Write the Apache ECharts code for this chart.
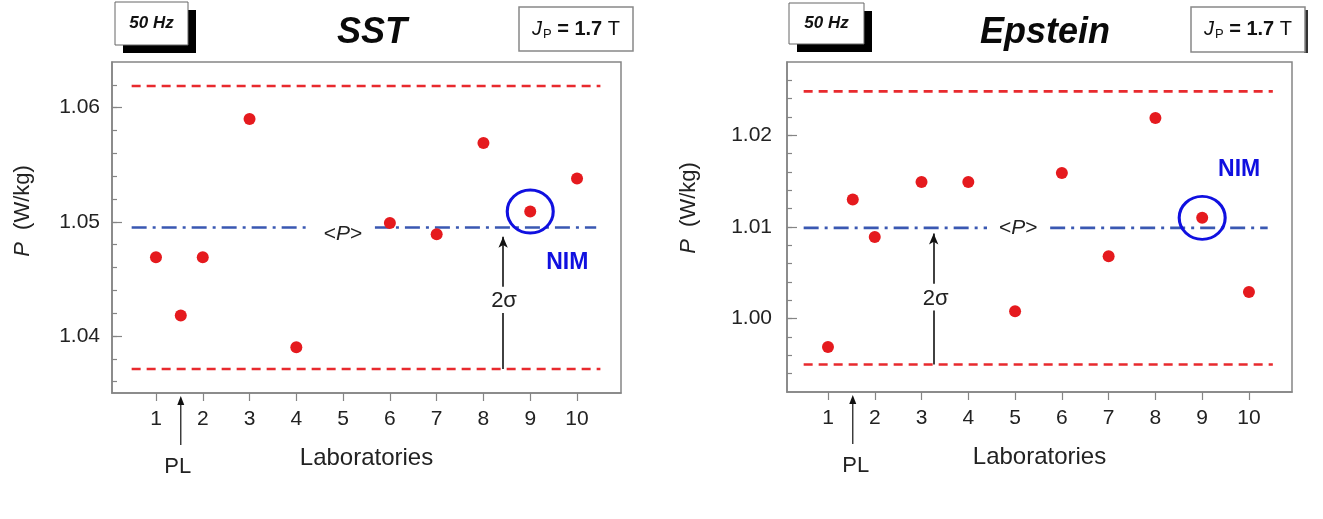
<!DOCTYPE html>
<html><head><meta charset="utf-8">
<script src="https://cdn.jsdelivr.net/npm/echarts/dist/echarts.min.js"></script>
<style>html,body{margin:0;padding:0;background:#fff}#c{width:1323px;height:519px}</style>
</head><body><div id="c"></div>
<script>
// ---------------- data ----------------
const sstLabs = [1, 1.53, 2, 3, 4, 6, 7, 8, 9, 10];
const sstP = [1.0469, 1.0418, 1.0469, 1.0590, 1.0390, 1.0499, 1.0489, 1.0569, 1.0509, 1.0538];
const sstMean = 1.0495;
const sstUpper = 1.0619;
const sstLower = 1.0371;

const epsLabs = [1, 1.53, 2, 3, 4, 5, 6, 7, 8, 9, 10];
const epsP = [0.9969, 1.0130, 1.0089, 1.0149, 1.0149, 1.0008, 1.0159, 1.0068, 1.0219, 1.0110, 1.0029];
const epsMean = 1.0099;
const epsUpper = 1.0248;
const epsLower = 0.9950;

const labTicks = [1, 2, 3, 4, 5, 6, 7, 8, 9, 10];
const plLab = 1.53;
const nimLab = 9;

const sstMajorTicks = [1.04, 1.05, 1.06];
const sstMinorTicks = [1.036, 1.038, 1.040, 1.042, 1.044, 1.046, 1.048, 1.050, 1.052, 1.054, 1.056, 1.058, 1.060, 1.062];
const epsMajorTicks = [1.00, 1.01, 1.02];
const epsMinorTicks = [0.994, 0.996, 0.998, 1.000, 1.002, 1.004, 1.006, 1.008, 1.010, 1.012, 1.014, 1.016, 1.018, 1.020, 1.022, 1.024, 1.026];

// ---------------- styles / layout ----------------
const FONT = "'Liberation Sans', Arial, sans-serif";
const RED = '#e51a1e';
const DASH_RED = '#e82a2e';
const MEAN_BLUE = '#3a58b2';
const NIM_BLUE = '#1010e0';
const AXIS_GRAY = '#858585';
const TXT = '#222';

const panels = [
  { labs: sstLabs, vals: sstP, mean: sstMean, up: sstUpper, lo: sstLower, major: sstMajorTicks, minor: sstMinorTicks,
    grid: { left: 112, top: 62, width: 509, height: 331 }, xr: [0.06, 10.94], yr: [1.035, 1.064], dec: 2,
    lineX: [0.48, 10.5], meanGap: [4.25, 5.68], meanEnd: 10.41, labelMargin: 12,
    sigmaX: 8.42, sigmaGap: [1.0420, 1.0443], sigmaTip: 1.0487, sigmaText: [8.44, 1.0431],
    pText: [5.0, 1.0489], nimOffset: [37, 51] },
  { labs: epsLabs, vals: epsP, mean: epsMean, up: epsUpper, lo: epsLower, major: epsMajorTicks, minor: epsMinorTicks,
    grid: { left: 787, top: 62, width: 505, height: 330 }, xr: [0.124, 10.92], yr: [0.992, 1.028], dec: 2,
    lineX: [0.48, 10.51], meanGap: [4.40, 5.75], meanEnd: 10.40, labelMargin: 15,
    sigmaX: 3.26, sigmaGap: [1.0009, 1.0038], sigmaTip: 1.0093, sigmaText: [3.30, 1.0022],
    pText: [5.07, 1.0099], nimOffset: [37, -48] }
];

const chart = echarts.init(document.getElementById('c'), null, { renderer: 'canvas' });

const grids = [], xAxes = [], yAxes = [], series = [];
panels.forEach((p, i) => {
  grids.push(Object.assign({ show: true, borderColor: AXIS_GRAY, borderWidth: 1.5, backgroundColor: '#fff' }, p.grid));
  xAxes.push({
    type: 'value', gridIndex: i, min: p.xr[0], max: p.xr[1],
    name: 'Laboratories', nameLocation: 'middle', nameGap: 53,
    nameTextStyle: { fontFamily: FONT, fontSize: 24, color: TXT },
    axisLine: { show: true, lineStyle: { color: AXIS_GRAY, width: 1.5 } },
    axisTick: { show: true, inside: false, length: 8, customValues: labTicks, lineStyle: { color: AXIS_GRAY, width: 1.2 } },
    axisLabel: { show: true, margin: 16, customValues: labTicks, fontFamily: FONT, fontSize: 21, color: TXT,
      formatter: v => String(Math.round(v)) },
    splitLine: { show: false }
  });
  yAxes.push({
    type: 'value', gridIndex: i, position: 'left', min: p.yr[0], max: p.yr[1],
    axisLine: { show: true, lineStyle: { color: AXIS_GRAY, width: 1.5 } },
    axisTick: { show: true, inside: true, length: 5, customValues: p.minor, lineStyle: { color: AXIS_GRAY, width: 1.2 } },
    axisLabel: { show: true, margin: p.labelMargin, customValues: p.major, fontFamily: FONT, fontSize: 21, color: TXT,
      formatter: v => v.toFixed(p.dec) },
    splitLine: { show: false }
  });
  yAxes.push({
    type: 'value', gridIndex: i, position: 'left', offset: 0, min: p.yr[0], max: p.yr[1],
    axisLine: { show: false },
    axisTick: { show: true, inside: true, length: 10, customValues: p.major, lineStyle: { color: AXIS_GRAY, width: 1.2 } },
    axisLabel: { show: false },
    splitLine: { show: false }
  });
  const xi = i, yi = i * 2;
  const hline = (x0, x1, y, color, type, w) => ({
    type: 'line', xAxisIndex: xi, yAxisIndex: yi, data: [[x0, y], [x1, y]], showSymbol: false, symbol: 'none',
    silent: true, z: 2, lineStyle: { color, type, width: w, opacity: 1 }
  });
  series.push(hline(p.lineX[0], p.lineX[1], p.up, DASH_RED, [9, 6], 2.6));
  series.push(hline(p.lineX[0], p.lineX[1], p.lo, DASH_RED, [9, 6], 2.6));
  series.push(hline(p.lineX[0], p.meanGap[0], p.mean, MEAN_BLUE, [15, 6, 3, 6], 2.6));
  series.push(hline(p.meanGap[1], p.meanEnd, p.mean, MEAN_BLUE, [15, 6, 3, 6], 2.6));
  // points + 2-sigma arrow
  series.push({
    type: 'scatter', xAxisIndex: xi, yAxisIndex: yi, symbol: 'circle', symbolSize: 12, z: 5,
    itemStyle: { color: RED, opacity: 1 },
    data: p.labs.map((l, k) => [l, p.vals[k]]),
    markLine: {
      silent: true, symbol: ['none', 'none'], label: { show: false },
      lineStyle: { color: '#111', width: 1.6, type: 'solid', opacity: 1 },
      data: [
        [{ coord: [p.sigmaX, p.lo] }, { coord: [p.sigmaX, p.sigmaGap[0]] }],
        [{ coord: [p.sigmaX, p.sigmaGap[1]] }, { coord: [p.sigmaX, p.sigmaTip], symbol: 'arrow', symbolSize: [7, 11] }]
      ]
    }
  });
  // NIM circle
  const nk = p.labs.indexOf(nimLab);
  series.push({
    type: 'scatter', xAxisIndex: xi, yAxisIndex: yi, symbol: 'circle', symbolSize: [46, 43], z: 6, silent: true,
    itemStyle: { color: 'rgba(0,0,0,0)', borderColor: NIM_BLUE, borderWidth: 3, opacity: 1 },
    label: { show: true, position: 'inside', offset: p.nimOffset, formatter: 'NIM',
      fontFamily: FONT, fontSize: 23, fontWeight: 'bold', color: NIM_BLUE },
    data: [[p.labs[nk], p.vals[nk]]]
  });
});

chart.setOption({
  animation: false,
  backgroundColor: '#fff',
  grid: grids, xAxis: xAxes, yAxis: yAxes, series: series
});

// ---------------- annotations (positioned through the axes) ----------------
const gfx = [];
const headers = [
  { hz: { x: 115, y: 2, w: 73, h: 43 }, title: 'SST', titleX: 372, jp: { x: 519, y: 7, w: 114, h: 44 }, yName: [23, 211], darkEdge: false },
  { hz: { x: 789, y: 3, w: 75, h: 41 }, title: 'Epstein', titleX: 1045, jp: { x: 1191, y: 7, w: 114, h: 45 }, yName: [689, 208], darkEdge: true }
];
panels.forEach((p, i) => {
  const h = headers[i];
  const toPx = (x, y) => chart.convertToPixel({ xAxisIndex: i, yAxisIndex: i * 2 }, [x, y]);
  // 50 Hz box with shadow
  gfx.push({ type: 'rect', shape: { x: h.hz.x + 8, y: h.hz.y + 8, width: h.hz.w, height: h.hz.h }, style: { fill: '#000' }, z: 10 });
  gfx.push({ type: 'rect', shape: { x: h.hz.x, y: h.hz.y, width: h.hz.w, height: h.hz.h }, style: { fill: '#fff', stroke: '#666', lineWidth: 1 }, z: 11 });
  gfx.push({ type: 'text', x: h.hz.x + h.hz.w / 2, y: h.hz.y + h.hz.h / 2, z: 12,
    style: { text: '50 Hz', fontFamily: FONT, fontSize: 17, fontStyle: 'italic', fontWeight: 'bold', fill: '#111', align: 'center', verticalAlign: 'middle' } });
  // title
  gfx.push({ type: 'text', x: h.titleX, y: 33, z: 12,
    style: { text: h.title, fontFamily: FONT, fontSize: 36, fontStyle: 'italic', fontWeight: 'bold', fill: '#0a0a0a', align: 'center', verticalAlign: 'middle' } });
  // J_P box
  if (h.darkEdge) gfx.push({ type: 'rect', shape: { x: h.jp.x + h.jp.w - 1, y: h.jp.y + 3, width: 4, height: h.jp.h - 2 }, style: { fill: '#333' }, z: 10 });
  gfx.push({ type: 'rect', shape: { x: h.jp.x, y: h.jp.y, width: h.jp.w, height: h.jp.h }, style: { fill: '#fff', stroke: '#888', lineWidth: 1.5 }, z: 11 });
  gfx.push({ type: 'text', x: h.jp.x + h.jp.w / 2, y: h.jp.y + h.jp.h / 2, z: 12,
    style: { text: '{j|J}{s|P}{b| = 1.7 }{n|T}', align: 'center', verticalAlign: 'middle', fontFamily: FONT, fontSize: 20, fill: '#111',
      rich: {
        j: { fontFamily: FONT, fontSize: 20, fontStyle: 'italic', fill: '#111' },
        s: { fontFamily: FONT, fontSize: 13, fill: '#111', padding: [10, 0, 0, 1] },
        b: { fontFamily: FONT, fontSize: 20, fontWeight: 'bold', fill: '#111' },
        n: { fontFamily: FONT, fontSize: 20, fill: '#111' }
      } } });
  // y axis name
  gfx.push({ type: 'text', x: h.yName[0], y: h.yName[1], rotation: Math.PI / 2, z: 12,
    style: { text: '{i|P}  (W/kg)', align: 'center', verticalAlign: 'middle', fontFamily: FONT, fontSize: 22, fill: TXT,
      rich: { i: { fontFamily: FONT, fontSize: 22, fontStyle: 'italic', fill: TXT } } } });
  // <P> label
  const pp = toPx(p.pText[0], p.pText[1]);
  gfx.push({ type: 'text', x: pp[0], y: pp[1], z: 12,
    style: { text: '<{i|P}>', align: 'center', verticalAlign: 'middle', fontFamily: FONT, fontSize: 21, fill: '#222',
      rich: { i: { fontFamily: FONT, fontSize: 21, fontStyle: 'italic', fill: '#222' } } } });
  // 2 sigma text
  const sp = toPx(p.sigmaText[0], p.sigmaText[1]);
  gfx.push({ type: 'text', x: sp[0], y: sp[1], z: 12,
    style: { text: '2σ', align: 'center', verticalAlign: 'middle', fontFamily: FONT, fontSize: 22, fill: '#222' } });
  // PL arrow below the axis
  const base = toPx(plLab, p.yr[0]);
  const ax = base[0], ay = base[1];
  gfx.push({ type: 'line', shape: { x1: ax, y1: ay + 52, x2: ax, y2: ay + 9 }, style: { stroke: '#222', lineWidth: 1.3 }, z: 12 });
  gfx.push({ type: 'polygon', shape: { points: [[ax, ay + 3], [ax - 3.5, ay + 12], [ax + 3.5, ay + 12]] }, style: { fill: '#111' }, z: 12 });
  gfx.push({ type: 'text', x: ax + (i === 0 ? -3 : 3), y: ay + 74, z: 12,
    style: { text: 'PL', align: 'center', verticalAlign: 'middle', fontFamily: FONT, fontSize: 22, fill: TXT } });
});
chart.setOption({ graphic: gfx });
</script>
</body></html>
